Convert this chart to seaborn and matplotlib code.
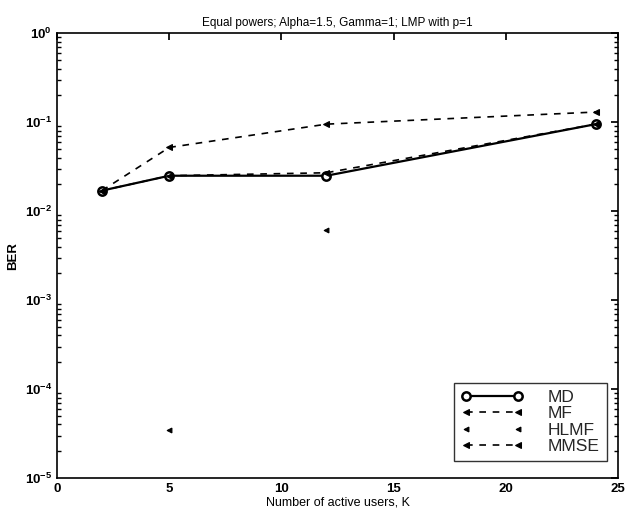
import matplotlib
matplotlib.use("Agg")
import matplotlib.pyplot as plt
import seaborn as sns
import pandas as pd
from matplotlib.ticker import LogLocator, NullFormatter, FixedLocator

sns.set_theme(style="white")
plt.rcParams["font.family"] = ["Liberation Sans", "DejaVu Sans"]

users = [2, 5, 12, 24]
ber_md = [0.017, 0.025, 0.025, 0.095]
ber_mf = [0.017, 0.025, 0.027, 0.095]
ber_hlmf = [0.017, 3.5e-5, 0.0061, 0.095]
ber_mmse = [0.017, 0.052, 0.095, 0.13]

series = {"MD": ber_md, "MF": ber_mf, "HLMF": ber_hlmf, "MMSE": ber_mmse}
df = pd.concat(
    [pd.DataFrame({"K": users, "BER": v, "method": k}) for k, v in series.items()],
    ignore_index=True,
)

styles = {
    "MD": dict(linestyle="-", marker="o", markersize=6, linewidth=1.6,
               markerfacecolor="white", markeredgecolor="black",
               markeredgewidth=1.8),
    "MF": dict(linestyle=(0, (4, 4)), marker="<", markersize=4.5, linewidth=1.2,
               markerfacecolor="black", markeredgecolor="black"),
    "HLMF": dict(linestyle="none", marker="<", markersize=3.5, linewidth=0.8,
                 markerfacecolor="black", markeredgecolor="black"),
    "MMSE": dict(linestyle=(0, (4, 4)), marker="<", markersize=4.5, linewidth=1.2,
                 markerfacecolor="black", markeredgecolor="black"),
}

fig = plt.figure(figsize=(6.37, 5.19), dpi=100)
ax = fig.add_axes([0.0895, 0.079, 0.881, 0.857])

for name in series:
    sns.lineplot(data=df[df["method"] == name], x="K", y="BER", ax=ax,
                 color="black", label=name, estimator=None, sort=False,
                 **styles[name])

ax.set_yscale("log")
ax.set_xlim(0, 25)
ax.set_ylim(1e-5, 1)
ax.xaxis.set_major_locator(FixedLocator([0, 5, 10, 15, 20, 25]))
ax.yaxis.set_major_locator(LogLocator(base=10, numticks=10))
ax.yaxis.set_minor_locator(LogLocator(base=10, subs=range(2, 10), numticks=20))
ax.yaxis.set_minor_formatter(NullFormatter())
ax.tick_params(axis="both", which="both", direction="in", colors="black",
               labelsize=9.5, top=True, right=True)
ax.tick_params(axis="y", which="major", length=5)
ax.tick_params(axis="y", which="minor", length=3, left=True, right=True)
ax.tick_params(axis="x", which="major", length=5)
for lbl in ax.get_xticklabels() + ax.get_yticklabels():
    lbl.set_fontweight("bold")

for s in ax.spines.values():
    s.set_color("black")
    s.set_linewidth(1.2)

ax.set_xlabel("Number of active users, K", fontsize=9, labelpad=1,
              color="black")
ax.set_ylabel("BER", fontsize=9.5, color="black", fontweight="bold")
ax.yaxis.set_label_coords(-0.068, 0.5)
ax.set_title("Equal powers; Alpha=1.5, Gamma=1; LMP with p=1", fontsize=8.5,
             pad=5, color="black")

leg = ax.legend(loc="lower right", numpoints=2, fontsize=12.5, frameon=True,
                fancybox=False, handlelength=3.6, borderpad=0.4,
                labelspacing=0.08, handletextpad=1.4,
                bbox_to_anchor=(0.995, 0.018))
leg.get_frame().set_edgecolor("black")
leg.get_frame().set_linewidth(1.0)

fig.savefig("out.png", dpi=100, facecolor="white")
